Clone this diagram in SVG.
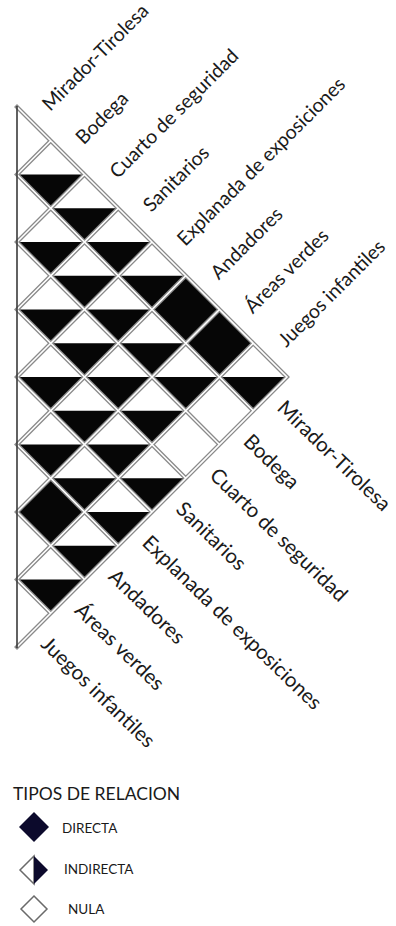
<svg xmlns="http://www.w3.org/2000/svg" xmlns:xlink="http://www.w3.org/1999/xlink" width="396" height="926" viewBox="0 0 396 926">
<style>
.lbl{font-family:Lato,"Liberation Sans",sans-serif;font-size:20.5px;fill:#1a1a1a}
.top{font-size:19.5px}
.leg{font-family:Lato,"Liberation Sans",sans-serif;fill:#1a1a1a}
.g1{stroke:#8a8a8a;stroke-width:4.2;fill:none;stroke-linecap:square}
.g2{stroke:#ffffff;stroke-width:1.6;fill:none}
.blk{fill:#060606}
</style>
<defs>
<path id="half" d="M-33.75 0H33.75L0 33.75Z"/>
<path id="full" d="M0 -33.75L33.75 0L0 33.75L-33.75 0Z"/>
</defs>
<rect width="396" height="926" fill="#ffffff"/>
<g id="cells" class="blk">
<g id="c6-0"><use href="#half" x="50.75" y="174.5"/></g>
<g id="c6-1"><use href="#half" x="50.75" y="242"/></g>
<g id="c6-2"><use href="#half" x="50.75" y="309.5"/></g>
<g id="c6-3"><use href="#half" x="50.75" y="377"/></g>
<g id="c6-4"><use href="#half" x="50.75" y="444.5"/></g>
<g id="c6-5"><use href="#full" x="50.75" y="512"/></g>
<g id="c6-6"><use href="#half" x="50.75" y="579.5"/></g>
<g id="c5-0"><use href="#half" x="84.5" y="208.25"/></g>
<g id="c5-1"><use href="#half" x="84.5" y="275.75"/></g>
<g id="c5-2"><use href="#half" x="84.5" y="343.25"/></g>
<g id="c5-3"><use href="#half" x="84.5" y="410.75"/></g>
<g id="c5-4"><use href="#half" x="84.5" y="478.25"/></g>
<g id="c5-5"><use href="#half" x="84.5" y="545.75"/></g>
<g id="c4-0"><use href="#half" x="118.25" y="242"/></g>
<g id="c4-1"><use href="#half" x="118.25" y="309.5"/></g>
<g id="c4-2"><use href="#half" x="118.25" y="377"/></g>
<g id="c4-3"><use href="#half" x="118.25" y="444.5"/></g>
<g id="c4-4"><use href="#half" x="118.25" y="512"/></g>
<g id="c3-0"><use href="#half" x="152" y="275.75"/></g>
<g id="c3-1"><use href="#half" x="152" y="343.25"/></g>
<g id="c3-2"><use href="#half" x="152" y="410.75"/></g>
<g id="c3-3"><use href="#half" x="152" y="478.25"/></g>
<g id="c2-0"><use href="#full" x="185.75" y="309.5"/></g>
<g id="c2-1"><use href="#half" x="185.75" y="377"/></g>
<g id="c1-0"><use href="#full" x="219.5" y="343.25"/></g>
<g id="c0-0"><use href="#half" x="253.25" y="377"/></g>
</g>
<g id="grid">
<path class="g1" d="M17 174.5L253.25 410.75M17 242L219.5 444.5M17 309.5L185.75 478.25M17 377L152 512M17 444.5L118.25 545.75M17 512L84.5 579.5M17 579.5L50.75 613.25M17 579.5L253.25 343.25M17 512L219.5 309.5M17 444.5L185.75 275.75M17 377L152 242M17 309.5L118.25 208.25M17 242L84.5 174.5M17 174.5L50.75 140.75M17 107L287 377L17 647"/>
<path class="g2" d="M17 174.5L253.25 410.75M17 242L219.5 444.5M17 309.5L185.75 478.25M17 377L152 512M17 444.5L118.25 545.75M17 512L84.5 579.5M17 579.5L50.75 613.25M17 579.5L253.25 343.25M17 512L219.5 309.5M17 444.5L185.75 275.75M17 377L152 242M17 309.5L118.25 208.25M17 242L84.5 174.5M17 174.5L50.75 140.75M17 107L287 377L17 647"/>
<line x1="17" y1="106" x2="17" y2="648" stroke="#3a3a3a" stroke-width="1.6"/>
</g>
<g id="top-labels" class="lbl top">
<g id="t0" transform="translate(33.9,123.9) rotate(-45)"><text x="20" y="3">Mirador-Tirolesa</text></g>
<g id="t1" transform="translate(67.6,157.6) rotate(-45)"><text x="20" y="3">Bodega</text></g>
<g id="t2" transform="translate(101.4,191.4) rotate(-45)"><text x="20" y="3">Cuarto de seguridad</text></g>
<g id="t3" transform="translate(135.1,225.1) rotate(-45)"><text x="20" y="3">Sanitarios</text></g>
<g id="t4" transform="translate(168.9,258.9) rotate(-45)"><text x="20" y="3">Explanada de exposiciones</text></g>
<g id="t5" transform="translate(202.6,292.6) rotate(-45)"><text x="20" y="3">Andadores</text></g>
<g id="t6" transform="translate(236.4,326.4) rotate(-45)"><text x="20" y="3">Áreas verdes</text></g>
<g id="t7" transform="translate(270.1,360.1) rotate(-45)"><text x="20" y="3">Juegos infantiles</text></g>
</g>
<g id="bottom-labels" class="lbl">
<g id="b0" transform="translate(270.1,393.9) rotate(44)"><text x="15" y="7">Mirador-Tirolesa</text></g>
<g id="b1" transform="translate(236.4,427.6) rotate(44)"><text x="15" y="7">Bodega</text></g>
<g id="b2" transform="translate(202.6,461.4) rotate(44)"><text x="15" y="7">Cuarto de seguridad</text></g>
<g id="b3" transform="translate(168.9,495.1) rotate(44)"><text x="15" y="7">Sanitarios</text></g>
<g id="b4" transform="translate(135.1,528.9) rotate(44)"><text x="15" y="7">Explanada de exposiciones</text></g>
<g id="b5" transform="translate(101.4,562.6) rotate(44)"><text x="15" y="7">Andadores</text></g>
<g id="b6" transform="translate(67.6,596.4) rotate(44)"><text x="15" y="7">Áreas verdes</text></g>
<g id="b7" transform="translate(33.9,630.1) rotate(44)"><text x="15" y="7">Juegos infantiles</text></g>
</g>
<g id="legend">
<text class="leg" x="13" y="800" font-size="17.5">TIPOS DE RELACION</text>
<g id="leg-directa">
<path d="M34 812L49 827L34 842L19 827Z" fill="#0c0a2c"/>
<text class="leg" x="62" y="833" font-size="13.5">DIRECTA</text>
</g>
<g id="leg-indirecta">
<path d="M34 856L34 884L20 870Z" fill="#ffffff" stroke="#6a6a6a" stroke-width="1.5"/>
<path d="M34 856L48 870L34 884Z" fill="#0c0a2c"/>
<text class="leg" x="64" y="874" font-size="13.5">INDIRECTA</text>
</g>
<g id="leg-nula">
<path d="M34 896L47 909L34 922L21 909Z" fill="#ffffff" stroke="#6a6a6a" stroke-width="1.5"/>
<text class="leg" x="68" y="914" font-size="13.5">NULA</text>
</g>
</g>
</svg>
